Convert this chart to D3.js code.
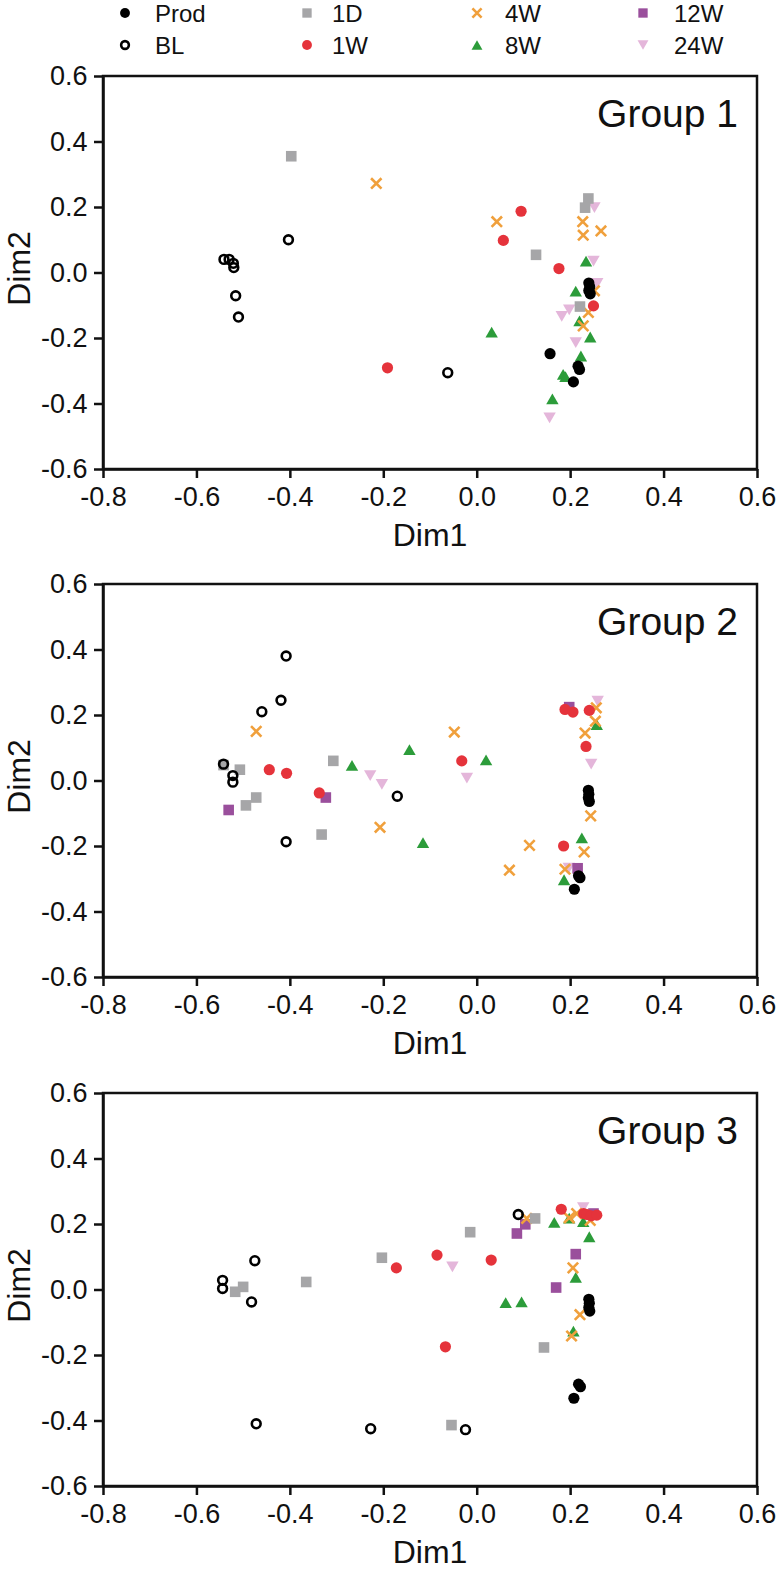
<!DOCTYPE html>
<html>
<head>
<meta charset="utf-8">
<script src="https://cdn.jsdelivr.net/npm/d3@7"></script>
<style>
  html, body { margin: 0; padding: 0; background: #fff; }
  svg { display: block; font-family: "Liberation Sans", Arial, Helvetica, sans-serif; }
</style>
</head>
<body>
<svg id="chart" width="780" height="1576"></svg>
<script>
// ---------- data ----------
const seriesNames = ["Prod", "BL", "1D", "1W", "4W", "8W", "12W", "24W"];
const groupTitles = ["Group 1", "Group 2", "Group 3"];
const xTicks = [-0.8, -0.6, -0.4, -0.2, 0.0, 0.2, 0.4, 0.6];
const yTicks = [-0.6, -0.4, -0.2, 0.0, 0.2, 0.4, 0.6];

// Group 1
const g1Prod = [[0.240,-0.032],[0.242,-0.044],[0.240,-0.055],[0.243,-0.065],[0.157,-0.248],[0.217,-0.286],[0.220,-0.296],[0.207,-0.334]];
const g1BL   = [[-0.541,0.040],[-0.530,0.040],[-0.521,0.028],[-0.520,0.015],[-0.516,-0.071],[-0.510,-0.136],[-0.403,0.100],[-0.062,-0.306]];
const g1D1   = [[-0.397,0.355],[0.127,0.054],[0.239,0.226],[0.232,0.198],[0.221,-0.104]];
const g1W1   = [[0.095,0.187],[0.057,0.098],[0.176,0.012],[0.250,-0.102],[-0.191,-0.291]];
const g1W4   = [[-0.215,0.272],[0.043,0.155],[0.227,0.155],[0.228,0.114],[0.266,0.127],[0.239,-0.122],[0.228,-0.163],[0.252,-0.056]];
const g1W8   = [[0.032,-0.182],[0.234,0.035],[0.212,-0.057],[0.220,-0.148],[0.243,-0.197],[0.223,-0.255],[0.185,-0.311],[0.190,-0.318],[0.162,-0.386]];
const g1W12  = [];
const g1W24  = [[0.252,0.198],[0.250,0.035],[0.258,-0.033],[0.198,-0.114],[0.182,-0.134],[0.212,-0.214],[0.156,-0.444]];

// Group 2
const g2Prod = [[0.239,-0.030],[0.240,-0.042],[0.239,-0.053],[0.241,-0.064],[0.218,-0.291],[0.221,-0.297],[0.209,-0.332]];
const g2BL   = [[-0.408,0.380],[-0.419,0.245],[-0.460,0.210],[-0.542,0.050],[-0.522,0.015],[-0.522,-0.005],[-0.170,-0.048],[-0.408,-0.187]];
const g2D1   = [[-0.542,0.047],[-0.507,0.033],[-0.307,0.060],[-0.472,-0.052],[-0.494,-0.076],[-0.332,-0.165]];
const g2W1   = [[-0.444,0.033],[-0.407,0.022],[-0.337,-0.038],[-0.032,0.060],[0.189,0.217],[0.206,0.209],[0.241,0.214],[0.234,0.104],[0.186,-0.200]];
const g2W4   = [[-0.472,0.150],[-0.048,0.148],[0.256,0.222],[0.254,0.181],[0.232,0.145],[0.244,-0.108],[-0.207,-0.143],[0.113,-0.198],[0.230,-0.218],[0.070,-0.274],[0.189,-0.271]];
const g2W8   = [[-0.267,0.046],[-0.144,0.094],[0.020,0.063],[0.257,0.171],[-0.115,-0.190],[0.225,-0.175],[0.187,-0.303]];
const g2W12  = [[-0.531,-0.090],[-0.323,-0.052],[0.198,0.224],[0.216,-0.268]];
const g2W24  = [[-0.228,0.015],[-0.203,-0.012],[-0.021,0.007],[0.259,0.242],[0.245,0.050],[0.197,-0.268]];

// Group 3
const g3Prod = [[0.240,-0.030],[0.241,-0.042],[0.240,-0.055],[0.242,-0.066],[0.218,-0.289],[0.222,-0.297],[0.208,-0.332]];
const g3BL   = [[-0.475,0.088],[-0.544,0.028],[-0.544,0.003],[-0.482,-0.038],[0.089,0.229],[-0.472,-0.410],[-0.227,-0.425],[-0.024,-0.428]];
const g3D1   = [[-0.517,-0.007],[-0.500,0.008],[-0.365,0.023],[-0.203,0.097],[-0.014,0.175],[0.125,0.217],[-0.054,-0.414],[0.144,-0.177]];
const g3W1   = [[-0.172,0.066],[-0.085,0.105],[0.031,0.090],[0.181,0.245],[0.229,0.232],[0.236,0.229],[0.245,0.225],[0.257,0.227],[-0.067,-0.175]];
const g3W4   = [[0.107,0.217],[0.198,0.219],[0.214,0.232],[0.243,0.211],[0.206,0.066],[0.221,-0.077],[0.203,-0.142]];
const g3W8   = [[0.166,0.205],[0.198,0.218],[0.228,0.207],[0.241,0.161],[0.212,0.037],[0.062,-0.040],[0.096,-0.038],[0.207,-0.127]];
const g3W12  = [[0.086,0.171],[0.104,0.199],[0.212,0.108],[0.170,0.006],[0.250,0.232]];
const g3W24  = [[-0.052,0.069],[0.228,0.250]];

const groups = [
  [g1Prod, g1BL, g1D1, g1W1, g1W4, g1W8, g1W12, g1W24],
  [g2Prod, g2BL, g2D1, g2W1, g2W4, g2W8, g2W12, g2W24],
  [g3Prod, g3BL, g3D1, g3W1, g3W4, g3W8, g3W12, g3W24]
];

// ---------- styling ----------
const colors = {
  "Prod": "#000000", "BL": "#000000", "1D": "#a6a6a8", "1W": "#e5333b",
  "4W": "#f0a03c", "8W": "#2c9c3a", "12W": "#9a4f9c", "24W": "#e4b6da"
};
const shapes = {
  "Prod": "circle", "BL": "ring", "1D": "square", "1W": "circle",
  "4W": "x", "8W": "triUp", "12W": "square", "24W": "triDown"
};

function drawMarker(sel, name, s) {
  const c = colors[name], sh = shapes[name];
  if (sh === "circle") {
    sel.append("circle").attr("r", 5.6 * s).attr("fill", c);
  } else if (sh === "ring") {
    sel.append("circle").attr("r", 4.4 * s).attr("fill", "none").attr("stroke", c).attr("stroke-width", 2.6);
  } else if (sh === "square") {
    const h = 5.3 * s;
    sel.append("rect").attr("x", -h).attr("y", -h).attr("width", 2 * h).attr("height", 2 * h).attr("fill", c);
  } else if (sh === "x") {
    const h = 5.2 * s;
    sel.append("path").attr("d", `M${-h},${-h}L${h},${h}M${-h},${h}L${h},${-h}`)
      .attr("stroke", c).attr("stroke-width", 2.6).attr("fill", "none");
  } else if (sh === "triUp") {
    const w = 6.2 * s, hh = 5.4 * s;
    sel.append("path").attr("d", `M0,${-hh}L${w},${hh}L${-w},${hh}Z`).attr("fill", c);
  } else if (sh === "triDown") {
    const w = 6.2 * s, hh = 5.4 * s;
    sel.append("path").attr("d", `M0,${hh}L${w},${-hh}L${-w},${-hh}Z`).attr("fill", c);
  }
}

// ---------- layout ----------
const svg = d3.select("#chart");
const x = d3.scaleLinear().domain([-0.8, 0.6]).range([103, 757]);
const panelTops = [76, 584, 1093];
const panelH = 393;
const fmt = d => d.toFixed(1);

// legend
const legendCols = [[125, 155], [307, 332], [477, 505], [643, 674]];
const legendRows = [13, 45];
const legendLayout = [["Prod", "BL"], ["1D", "1W"], ["4W", "8W"], ["12W", "24W"]];
legendLayout.forEach((col, ci) => {
  col.forEach((name, ri) => {
    const g = svg.append("g").attr("transform", `translate(${legendCols[ci][0]},${legendRows[ri]})`);
    drawMarker(g, name, 0.88);
    svg.append("text").attr("x", legendCols[ci][1]).attr("y", legendRows[ri])
      .attr("dy", "0.36em").attr("font-size", 24).attr("fill", "#111").text(name);
  });
});

groups.forEach((grp, gi) => {
  const top = panelTops[gi];
  const y = d3.scaleLinear().domain([-0.6, 0.6]).range([top + panelH, top]);
  const g = svg.append("g");

  // frame
  g.append("rect").attr("x", x(-0.8)).attr("y", y(0.6))
    .attr("width", x(0.6) - x(-0.8)).attr("height", y(-0.6) - y(0.6))
    .attr("fill", "none").attr("stroke", "#111").attr("stroke-width", 2.5);

  // axes
  const ax = g.append("g").attr("transform", `translate(0,${y(-0.6)})`)
    .call(d3.axisBottom(x).tickValues(xTicks).tickFormat(fmt).tickSize(9).tickSizeOuter(0).tickPadding(9));
  const ay = g.append("g").attr("transform", `translate(${x(-0.8)},0)`)
    .call(d3.axisLeft(y).tickValues(yTicks).tickFormat(fmt).tickSize(9).tickSizeOuter(0).tickPadding(6.5));
  [ax, ay].forEach(a => {
    a.select(".domain").attr("stroke", "#111").attr("stroke-width", 2.5);
    a.selectAll(".tick line").attr("stroke", "#111").attr("stroke-width", 2.5);
    a.selectAll(".tick text").attr("font-size", 27).attr("fill", "#111")
      .attr("font-family", "'Liberation Sans', Arial, sans-serif");
  });

  // axis titles
  g.append("text").attr("x", (x(-0.8) + x(0.6)) / 2).attr("y", y(-0.6) + 77)
    .attr("text-anchor", "middle").attr("font-size", 32).attr("fill", "#111").text("Dim1");
  g.append("text").attr("transform", `translate(30,${y(0) - 4}) rotate(-90)`)
    .attr("text-anchor", "middle").attr("font-size", 32).attr("fill", "#111").text("Dim2");

  // group title
  g.append("text").attr("x", 738).attr("y", top + 51)
    .attr("text-anchor", "end").attr("font-size", 39).attr("fill", "#111").text(groupTitles[gi]);

  // points (drawn in reverse so Prod/BL are on top)
  for (let si = seriesNames.length - 1; si >= 0; si--) {
    const name = seriesNames[si];
    grp[si].forEach(p => {
      const m = g.append("g").attr("transform", `translate(${x(p[0])},${y(p[1])})`);
      drawMarker(m, name, 1);
    });
  }
});
</script>
</body>
</html>
